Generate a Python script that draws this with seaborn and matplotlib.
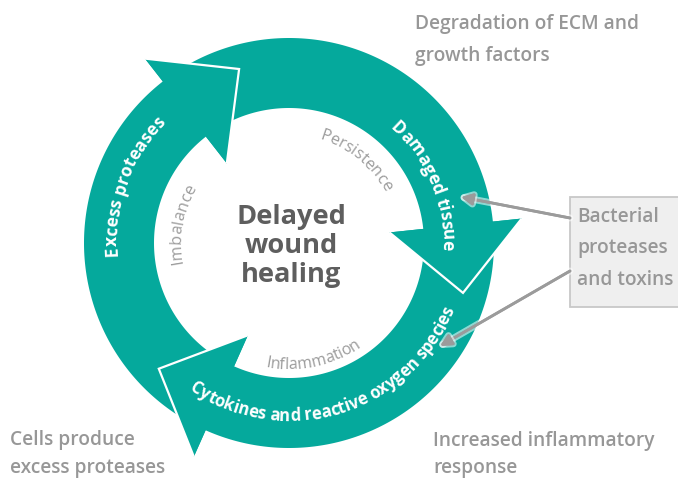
import numpy as np
import matplotlib
matplotlib.use("Agg")
import matplotlib.pyplot as plt
import seaborn as sns
import matplotlib.patheffects as pe
from matplotlib.patches import Polygon, Rectangle, FancyArrowPatch
from matplotlib.font_manager import FontProperties, findfont
from matplotlib.ft2font import FT2Font

# ---------------- data (texts) ----------------
center_lines = ["Delayed", "wound", "healing"]
ring_labels = ["Excess proteases", "Damaged tissue", "Cytokines and reactive oxygen species"]
inner_labels = ["Imbalance", "Persistence", "Inflammation"]
outer_top = ["Degradation of ECM and", "growth factors"]
outer_right = ["Increased inflammatory", "response"]
outer_left = ["Cells produce", "excess proteases"]
box_lines = ["Bacterial", "proteases", "and toxins"]

# ---------------- layout / style ----------------
W, H, DPI = 678, 479, 100
CX, CY = 289, 243
R_IN, R_OUT = 135, 205
HEAD_IN, HEAD_OUT, HEAD_TIP = 101, 234, 181
HEAD_SPAN = 22
TAIL_UNDER = 8
HEAD_BASES = [128, 6, -114]

TEAL = "#05a99c"
GRAY_TXT = "#979797"
GRAY_IN = "#9c9c9c"
DARK = "#5e5e5e"
ARROW_GRAY = "#9b9b9b"

sns.set_theme(style="white")
plt.rcParams['font.family'] = ['Open Sans', 'DejaVu Sans']

fig = plt.figure(figsize=(W / DPI, H / DPI), dpi=DPI)
ax = fig.add_axes([0, 0, 1, 1])
ax.set_xlim(0, W)
ax.set_ylim(H, 0)
ax.axis('off')


def P(r, deg):
    t = np.deg2rad(deg)
    return CX + r * np.cos(t), CY - r * np.sin(t)


# ---------------- ring arrows ----------------
heads = []
for i, base in enumerate(HEAD_BASES):
    prev = HEAD_BASES[i - 1]
    tail = prev - TAIL_UNDER
    while tail < base:
        tail += 360
    angs = np.linspace(tail, base, 120)
    outer = [P(R_OUT, a) for a in angs]
    inner = [P(R_IN, a) for a in angs[::-1]]
    ho, tip, hi = P(HEAD_OUT, base), P(HEAD_TIP, base - HEAD_SPAN), P(HEAD_IN, base)
    ax.add_patch(Polygon(outer + [ho, tip, hi] + inner, closed=True,
                         fc=TEAL, ec='none', zorder=1))
    heads.append((ho, tip, hi))

for ho, tip, hi in heads:
    ax.add_patch(Polygon([ho, tip, hi], closed=True, fc=TEAL, ec='none', zorder=2))
    ax.plot([ho[0], tip[0], hi[0]], [ho[1], tip[1], hi[1]], color='white', lw=1.6,
            zorder=3, solid_joinstyle='miter', solid_capstyle='butt')


# ---------------- curved text ----------------
def advances(s, prop):
    font = FT2Font(findfont(prop))
    font.set_size(prop.get_size_in_points(), DPI)
    return [font.load_char(ord(c)).linearHoriAdvance / 65536 for c in s]


def arc_text(s, theta_c, r_base, prop, color, clockwise=True, zorder=5):
    adv = np.array(advances(s, prop))
    L = adv.sum()
    cum = np.concatenate([[0], np.cumsum(adv)[:-1]])
    mids = cum + adv / 2 - L / 2
    for ch, m in zip(s, mids):
        if ch == ' ':
            continue
        d = np.rad2deg(m / r_base)
        if clockwise:
            a = theta_c - d
            rot = a - 90
        else:
            a = theta_c + d
            rot = a + 90
        x, y = P(r_base, a)
        ax.text(x, y, ch, fontproperties=prop, color=color, rotation=rot,
                rotation_mode='anchor', ha='center', va='baseline', zorder=zorder)


ring_fp = [FontProperties(family='Open Sans', weight='bold', size=12.5),
           FontProperties(family='Open Sans', weight='bold', size=12.5),
           FontProperties(family='Open Sans', weight='bold', size=12)]
ring_pos = [(160, 172, True), (23, 153, True), (287, 178, False)]
for s, fp, (tc, rb, cw) in zip(ring_labels, ring_fp, ring_pos):
    arc_text(s, tc, rb, fp, 'white', clockwise=cw)

inner_fp = FontProperties(family='Open Sans', weight='normal', size=11.6)
inner_pos = [(170, 108, True), (51, 108, True), (282, 126, False)]
for s, (tc, rb, cw) in zip(inner_labels, inner_pos):
    arc_text(s, tc, rb, inner_fp, GRAY_IN, clockwise=cw)

# ---------------- center title ----------------
title_fp = FontProperties(family='Open Sans', weight='bold', size=19.6)
for s, yb in zip(center_lines, [224, 253, 282]):
    ax.text(291, yb, s, fontproperties=title_fp, color=DARK, ha='center', va='baseline', zorder=5)

# ---------------- outer labels ----------------
lab_fp = FontProperties(family='Open Sans', weight='semibold', size=13.8)
for lines, x0, ybs in [(outer_top, 415, [29, 61]),
                       (outer_right, 433, [446, 473]),
                       (outer_left, 10, [445, 473])]:
    for s, yb in zip(lines, ybs):
        ax.text(x0, yb, s, fontproperties=lab_fp, color=GRAY_TXT, ha='left', va='baseline', zorder=5)

# ---------------- box + arrows ----------------
ax.add_patch(Rectangle((570, 197), 130, 110, fc='#efefef', ec='#c8c8c8', lw=1.3, zorder=4))
for s, yb in zip(box_lines, [222, 253, 285]):
    ax.text(577, yb, s, fontproperties=lab_fp, color=GRAY_TXT, ha='left', va='baseline', zorder=5)

for start, end in [((570, 218), (461, 197)), ((570, 271), (440, 346))]:
    arr = FancyArrowPatch(start, end, arrowstyle='-|>', mutation_scale=17, lw=2,
                          color=ARROW_GRAY, shrinkA=0, shrinkB=0, zorder=6,
                          path_effects=[pe.withStroke(linewidth=5, foreground='white', alpha=0.55),
                                        pe.Normal()])
    ax.add_patch(arr)

fig.savefig("out.png", dpi=DPI)
